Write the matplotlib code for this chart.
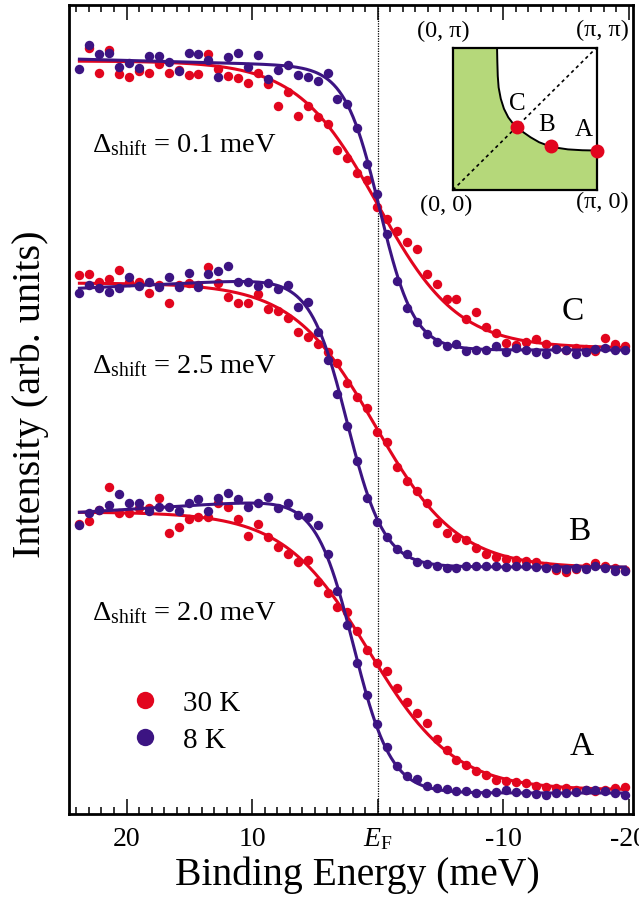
import math
import numpy as np
import matplotlib
matplotlib.use('Agg')
import matplotlib.pyplot as plt
from matplotlib.lines import Line2D

plt.rcParams['font.family'] = ['Liberation Serif', 'DejaVu Serif']
plt.rcParams['mathtext.fontset'] = 'custom'
plt.rcParams['mathtext.rm'] = 'Liberation Serif'
plt.rcParams['mathtext.it'] = 'Liberation Serif:italic'
plt.rcParams['mathtext.bf'] = 'Liberation Serif:bold'

# ---------------- data ----------------
energy = [23.75, 22.96, 22.17, 21.38, 20.59, 19.80, 19.01, 18.22, 17.43, 16.64,
          15.85, 15.06, 14.27, 13.48, 12.69, 11.89, 11.10, 10.31, 9.52, 8.73,
          7.94, 7.15, 6.36, 5.57, 4.78, 3.99, 3.20, 2.41, 1.62, 0.83,
          0.04, -0.75, -1.54, -2.33, -3.12, -3.91, -4.70, -5.49, -6.28, -7.07,
          -7.87, -8.66, -9.45, -10.24, -11.03, -11.82, -12.61, -13.40, -14.19, -14.98,
          -15.77, -16.56, -17.35, -18.14, -18.93, -19.72]

nan = float('nan')
# cut C (node)
c_8K = [745, 769, 760, 761, 747, 751, 746, 758, 758, 752,
        743, 761, 760, 754, 737, 757, 761, 747, 759, 735,
        744, 749, 739, 737, 733, 741, 715, 710, 686, 650,
        620, 580, 533, 506, 492, 480, 472, 468, 470, 463,
        464, 464, 468, 462, 466, 464, 462, 460, 465, 464,
        460, 462, 465, 466, 464, 464]
c_30K = [nan, 766, 741, 764, 740, 737, 743, 741, 750, 741,
         744, 739, 740, 760, 745, 738, 736, 731, 741, 730,
         708, 722, 698, 708, 697, 690, 664, 656, 641, 634,
         607, 595, 583, 572, 565, 540, 530, 515, 515, 495,
         502, 487, 481, 471, 469, 472, 475, 470, 466, 464,
         466, 465, 463, 476, 470, 468]
# cut B
b_8K = [521, 529, 526, 522, 526, 537, 528, 532, 527, 537,
        527, 541, 527, 540, 543, 548, 532, 532, 528, 531,
        525, 529, 507, 512, 482, 454, 420, 388, 353, 316,
        292, 277, 265, 260, 252, 250, 248, 246, 246, 248,
        248, 248, 248, 247, 248, 248, 247, 246, 246, 245,
        246, 245, 248, 246, 243, 243]
b_30K = [539, 540, 532, 535, 544, 532, 532, 521, 529, 511,
         529, 531, 529, 547, 531, 517, 511, 511, 520, 505,
         503, 496, 482, 477, 470, 462, 451, 431, 417, 406,
         382, 372, 347, 333, 323, 311, 291, 281, 276, 274,
         266, 260, 257, 255, 254, 253, 252, 248, 244, 242,
         245, 247, 251, 248, 246, 244]
# cut A (antinode)
a_8K = [289, 301, 304, 309, 320, 311, 311, 303, 307, 307,
        303, 311, 315, 303, 316, 321, 315, 307, 311, 317,
        306, 311, 299, 297, 289, 260, 223, 189, 151, 119,
        90, 67, 48, 38, 35, 28, 26, 25, 23, 23,
        21, 21, 22, 24, 22, 21, 20, 19, 21, 21,
        22, 24, 24, 23, 21, 19]
a_30K = [290, 293, 304, 327, 301, 301, 306, 306, 316, 281,
         287, 295, 297, 297, 311, 307, 295, 278, 290, 277,
         267, 260, 252, 254, 232, 221, 207, 202, 183, 164,
         151, 143, 126, 112, 101, 91, 75, 64, 54, 49,
         43, 39, 34, 33, 32, 31, 28, 27, 26, 26,
         24, 24, 23, 24, 26, 27]

cut_names = ['C', 'B', 'A']
shift_labels = ['0.1', '2.5', '2.0']
series_8K = [c_8K, b_8K, a_8K]
series_30K = [c_30K, b_30K, a_30K]

# Fermi-edge fit parameters (C, B, A): edge position, width, upper level, upper slope, background
fit_mu_8K = [-0.15, 2.45, 1.95]
fit_w_8K = [1.38, 1.48, 1.50]
fit_top_8K = [747, 540, 320]
fit_slope_8K = [0.33, -0.6, -0.77]
fit_bg_8K = [464, 247, 21]
fit_mu_30K = [0.0, 0.2, 0.7]
fit_w_30K = [3.2, 3.3, 3.4]
fit_top_30K = [753, 531, 302]
fit_slope_30K = [0.0, 0.0, 0.0]
fit_bg_30K = [466, 246, 24]

# inset: Fermi surface in first quadrant (units of pi)
fs_kx = [0.307, 0.309, 0.312, 0.318, 0.333, 0.355, 0.385, 0.415, 0.445, 0.49, 0.54, 0.60, 0.66, 0.72, 0.80, 0.90, 1.0]
fs_ky = [1.0, 0.90, 0.80, 0.72, 0.64, 0.57, 0.51, 0.47, 0.445, 0.405, 0.37, 0.335, 0.312, 0.297, 0.285, 0.279, 0.277]
cut_kx = [1.0, 0.679, 0.445]
cut_ky = [0.277, 0.309, 0.445]

RED = '#e2051e'
BLUE = '#3c1482'
GREEN = '#b5d87a'


def edge(E, mu, w, top, slope, bg):
    E = np.asarray(E)
    return bg + (top - bg + slope * E) / (1.0 + np.exp(-(E - mu) / w))


# ---------------- figure ----------------
fig = plt.figure(figsize=(6.39, 9.02), dpi=100)
ax = fig.add_axes([69 / 639, 88 / 902, 564 / 639, 809 / 902])

E_fit = np.linspace(energy[0], energy[-1], 400)
for k in range(3):
    ax.plot(E_fit, edge(E_fit, fit_mu_30K[k], fit_w_30K[k], fit_top_30K[k], fit_slope_30K[k], fit_bg_30K[k]),
            color=RED, lw=2.2, zorder=2)
    ax.plot(energy, series_30K[k], 'o', color=RED, ms=6.8, mew=0, zorder=3)
for k in range(3):
    ax.plot(E_fit, edge(E_fit, fit_mu_8K[k], fit_w_8K[k], fit_top_8K[k], fit_slope_8K[k], fit_bg_8K[k]),
            color=BLUE, lw=2.2, zorder=4)
    ax.plot(energy, series_8K[k], 'o', color=BLUE, ms=6.8, mew=0, zorder=5)

ax.axvline(0, color='black', lw=0.9, ls=(0, (1, 1)), zorder=1)

ax.set_xlim(24.58, -20.34)
ax.set_ylim(0, 809)
ax.set_yticks([])
ax.set_xticks([20, 10, 0, -10, -20])
ax.set_xticklabels(['20', '10', r'$E_\mathrm{F}$', '-10', '-20'])
ax.set_xticks(np.arange(-20, 25, 1), minor=True)
ax.tick_params(axis='x', which='both', direction='in', top=True, bottom=True,
               labelsize=20, width=1.1, pad=9)
ax.tick_params(axis='x', which='major', length=11)
ax.tick_params(axis='x', which='minor', length=5.3)
for s in ax.spines.values():
    s.set_linewidth(2.0)

ax.set_xlabel('Binding Energy (meV)', fontsize=28.5)
ax.xaxis.set_label_coords(0.5117, -0.053)
ax.set_ylabel('Intensity (arb. units)', fontsize=29)
ax.yaxis.set_label_coords(-0.036, 0.519)

# Delta_shift labels
shift_y = [0.8187, 0.5448, 0.2398]
for k in range(3):
    ax.text(0.040, shift_y[k], r'$\Delta_\mathrm{shift}$' + ' = ' + shift_labels[k] + ' meV',
            transform=ax.transAxes, fontsize=20.5, va='baseline', ha='left')

# cut letters
letter_pos = [(0.8936, 0.6106), (0.904, 0.3387), (0.9096, 0.0733)]
for k in range(3):
    ax.text(letter_pos[k][0], letter_pos[k][1], cut_names[k], transform=ax.transAxes,
            fontsize=24, ha='center', va='baseline')

# legend
handles = [Line2D([], [], marker='o', ls='none', color=RED, ms=12.5, mew=0),
           Line2D([], [], marker='o', ls='none', color=BLUE, ms=12.5, mew=0)]
ax.legend(handles, ['30 K', '8 K'], loc='upper left', bbox_to_anchor=(0.109, 0.153),
          frameon=False, fontsize=21, handlelength=1.0, handletextpad=0.8,
          labelspacing=0.36, borderpad=0, borderaxespad=0)

# ---------------- inset ----------------
ins = fig.add_axes([452.9 / 639, 1 - 190 / 902, 143.8 / 639, 142.5 / 902])
ins.set_xlim(0, 1)
ins.set_ylim(0, 1)
poly_x = [0.0, 0.0] + fs_kx + [1.0]
poly_y = [0.0, 1.0] + fs_ky + [0.0]
ins.fill(poly_x, poly_y, color=GREEN, lw=0, zorder=1)
ins.plot(fs_kx, fs_ky, color='black', lw=1.4, zorder=2)
ins.plot([0, 1], [0, 1], color='black', lw=1.2, ls=(0, (2, 2)), zorder=2)
ins.plot(cut_kx, cut_ky, 'o', color=RED, ms=10, mew=0, zorder=5, clip_on=False)
ins.set_xticks([])
ins.set_yticks([])
for s in ins.spines.values():
    s.set_linewidth(1.6)
    s.set_zorder(4)
ins.text(0.446, 0.606, 'C', fontsize=18, ha='center', va='center')
ins.text(0.654, 0.453, 'B', fontsize=18, ha='center', va='center')
ins.text(0.907, 0.418, 'A', fontsize=18, ha='center', va='center')
ins.text(-0.067, 1.11, '(0, π)', fontsize=17.5, ha='center', va='center')
ins.text(1.04, 1.12, '(π, π)', fontsize=17.5, ha='center', va='center')
ins.text(-0.045, -0.105, '(0, 0)', fontsize=17.5, ha='center', va='center')
ins.text(1.04, -0.087, '(π, 0)', fontsize=17.5, ha='center', va='center')

fig.savefig('out.png', dpi=100)
